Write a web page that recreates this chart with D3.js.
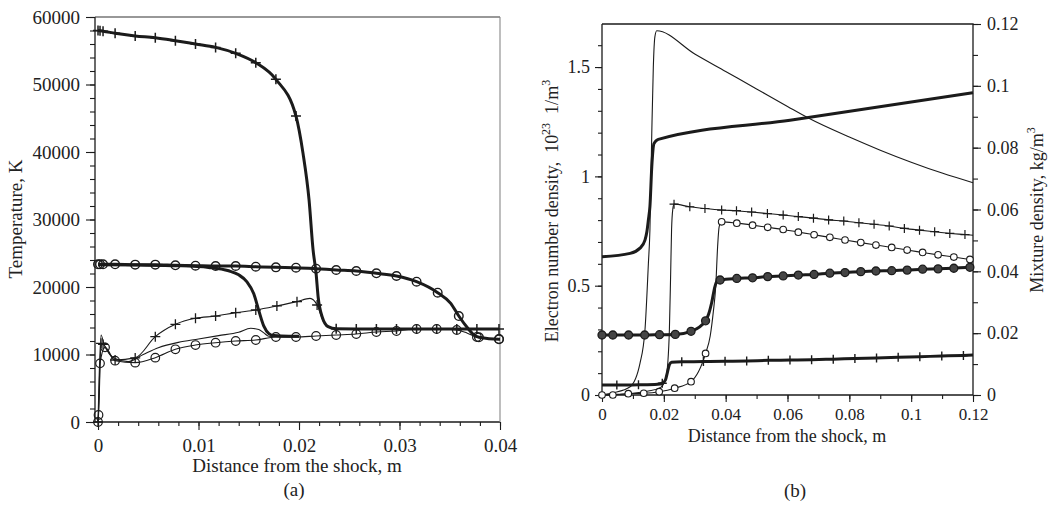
<!DOCTYPE html>
<html>
<head>
<meta charset="utf-8">
<script src="https://cdn.jsdelivr.net/npm/d3@7"></script>
<style>
  body { margin: 0; background: #fff; }
  svg, svg text { font-family: "Liberation Serif", "Times New Roman", serif; }
</style>
</head>
<body>
<svg id="chart" width="1052" height="506"></svg>
<script>
// ---------- panel (a): temperature behind the shock ----------
var aXTicks = [0, 0.01, 0.02, 0.03, 0.04];
var aYTicks = [0, 10000, 20000, 30000, 40000, 50000, 60000];

// [distance m, temperature K, marker drawn (1/0)]
var tHeavyPlus = [[0,58000,1],[0.0002,57950,1],[0.0005,57900,1],[0.0017,57580,1],[0.0037,57190,1],
  [0.0057,56930,1],[0.0077,56490,1],[0.0097,56000,1],[0.0117,55500,1],[0.0137,54620,1],[0.0157,53230,1],
  [0.0177,50770,1],[0.0197,45330,1],[0.0204,39800,0],[0.021,32900,0],[0.0214,25500,0],[0.0217,22000,0],
  [0.0219,18560,0],[0.0223,15600,0],[0.0229,14120,0],[0.0237,13800,1],[0.0257,13780,1],[0.0277,13780,1],
  [0.0297,13780,1],[0.0317,13780,1],[0.0337,13780,1],[0.0357,13780,1],[0.0377,13780,1],[0.0399,13780,1]];
var tHeavyCirc = [[0,23360,1],[0.0002,23360,1],[0.0005,23360,1],[0.0017,23360,1],[0.0037,23310,1],
  [0.0057,23310,1],[0.0077,23210,1],[0.0097,23160,1],[0.0117,23110,1],[0.0137,23110,1],[0.0157,23010,1],
  [0.0177,22910,1],[0.0197,22860,1],[0.0217,22710,1],[0.0237,22520,1],[0.0257,22370,1],[0.0277,22030,1],
  [0.0297,21630,1],[0.0317,20790,1],[0.0338,19160,1],[0.0351,17580,0],[0.0359,15700,1],[0.0368,13880,0],
  [0.0374,12890,0],[0.0379,12550,1],[0.0399,12250,1],[0.04,12250,0]];
var tHeavyPlain = [[0,23300],[0.004,23250],[0.008,23150],[0.011,22900],[0.013,22400],[0.014,21800],
  [0.0148,20800],[0.0155,19000],[0.016,16500],[0.0165,14200],[0.017,13100],[0.0175,12800],[0.019,12700],
  [0.02,12700]];
var tElecPlus = [[0,0,1],[0.0001,3000,0],[0.0003,11650,1],[0.0005,11500,1],[0.0017,9185,1],[0.0037,9500,1],
  [0.0057,12640,1],[0.0077,14470,1],[0.0097,15360,1],[0.0117,15700,1],[0.0137,16200,1],[0.0157,16590,1],
  [0.0178,17190,1],[0.0198,17830,1],[0.0211,18320,0],[0.0218,17330,1],[0.0224,15000,0],[0.0229,14100,0],
  [0.0237,13800,0],[0.04,13780,0]];
var tElecCirc = [[0,0,1],[0.00005,1040,1],[0.0002,8690,1],[0.0007,11060,1],[0.0017,9080,1],[0.0037,8790,1],
  [0.0057,9530,1],[0.0077,10770,1],[0.0097,11400,1],[0.0117,11750,1],[0.0137,12000,1],[0.0157,12150,1],
  [0.0177,12590,1],[0.0197,12590,1],[0.0217,12740,1],[0.0237,12890,1],[0.0257,13040,1],[0.0277,13330,1],
  [0.0297,13480,1],[0.0317,13780,1],[0.0337,13780,1],[0.0357,13630,1],[0.0367,13200,0],[0.0377,12590,1],
  [0.0399,12300,1],[0.04,12300,0]];
var tElecPlain = [[0,0],[0.0001,6000],[0.0003,12900],[0.0006,11500],[0.0017,9400],[0.003,8950],
  [0.0045,10000],[0.006,11000],[0.008,11800],[0.01,12300],[0.012,12800],[0.014,13300],[0.0152,13880],
  [0.016,13700],[0.0165,13200],[0.017,12700],[0.018,12600],[0.02,12600]];

// ---------- panel (b): electron number density and mixture density ----------
var bXTicks = [0, 0.02, 0.04, 0.06, 0.08, 0.1, 0.12];
var bLeftTicks = [0, 0.5, 1, 1.5];
var bRightTicks = [0, 0.02, 0.04, 0.06, 0.08, 0.1, 0.12];

// electron number density, 10^23 1/m^3 (left axis)
var nePlain = [[0,0],[0.0036,0.01],[0.0091,0.038],[0.0123,0.146],[0.0139,0.297],[0.015,0.6],[0.0155,0.755],
  [0.0161,1.197],[0.0166,1.5],[0.0171,1.638],[0.0177,1.666],[0.03,1.56],[0.04,1.48],[0.05,1.4],[0.06,1.32],
  [0.0666,1.268],[0.08,1.18],[0.09,1.12],[0.1,1.065],[0.11,1.015],[0.12,0.971]];
var nePlus = [[0,0,0],[0.005,0.003,0],[0.01,0.008,0],[0.015,0.018,0],[0.019,0.035,0],[0.0205,0.07,0],
  [0.0213,0.15,0],[0.0218,0.3,0],[0.0222,0.55,0],[0.0225,0.755,0],[0.0229,0.85,0],[0.0233,0.873,1],
  [0.0284,0.861,1],[0.0333,0.853,1],[0.0387,0.846,1],[0.0435,0.843,1],[0.0484,0.837,1],[0.0535,0.83,1],
  [0.0586,0.823,1],[0.0635,0.816,1],[0.0684,0.809,1],[0.0733,0.801,1],[0.0782,0.796,1],[0.0831,0.788,1],
  [0.088,0.781,1],[0.0929,0.773,1],[0.0978,0.762,1],[0.1027,0.754,1],[0.1076,0.747,1],[0.1125,0.739,1],
  [0.1174,0.734,1],[0.12,0.731,0]];
var neCirc = [[0,0,1],[0.0035,0,1],[0.0085,0.006,1],[0.0135,0.008,1],[0.0185,0.015,1],[0.0235,0.031,1],
  [0.0288,0.061,1],[0.0335,0.19,1],[0.035,0.27,0],[0.036,0.38,0],[0.0368,0.5,0],[0.0374,0.68,0],
  [0.0379,0.77,0],[0.0387,0.792,1],[0.0436,0.786,1],[0.0487,0.777,1],[0.0536,0.767,1],[0.0586,0.757,1],
  [0.0635,0.745,1],[0.0686,0.733,1],[0.0737,0.721,1],[0.0786,0.709,1],[0.0837,0.697,1],[0.0886,0.686,1],
  [0.0937,0.675,1],[0.0987,0.663,1],[0.1037,0.652,1],[0.1087,0.641,1],[0.1138,0.631,1],[0.119,0.62,1],
  [0.12,0.618,0]];

// mixture density, kg/m^3 (right axis)
var rhoPlain = [[0,0.0447],[0.0091,0.0458],[0.0123,0.0475],[0.0139,0.0501],[0.0145,0.0527],[0.015,0.0566],
  [0.0155,0.0609],[0.0161,0.0738],[0.0168,0.0813],[0.0182,0.0827],[0.0608,0.0889],[0.12,0.0978]];
var rhoPlus = [[0,0.0032,0],[0.0048,0.0032,1],[0.0118,0.0033,1],[0.018,0.0035,0],[0.0195,0.0038,1],
  [0.0205,0.0048,0],[0.0212,0.0075,0],[0.0218,0.0098,0],[0.0225,0.0106,0],[0.0258,0.01075,1],
  [0.0328,0.0108,1],[0.0398,0.0109,1],[0.0468,0.011,1],[0.0538,0.0112,1],[0.0608,0.0113,1],[0.0678,0.0114,1],
  [0.0748,0.0116,1],[0.0818,0.0118,1],[0.0888,0.012,1],[0.0958,0.0122,1],[0.1028,0.0124,1],[0.1099,0.0126,1],
  [0.1169,0.0128,1],[0.12,0.0129,0]];
var rhoCirc = [[0,0.0194,1],[0.0035,0.0194,1],[0.0086,0.0194,1],[0.0138,0.0194,1],[0.0186,0.0195,1],
  [0.0237,0.0196,1],[0.0288,0.0206,1],[0.0335,0.024,1],[0.0345,0.0262,0],[0.0355,0.03,0],[0.0365,0.035,0],
  [0.0372,0.0368,0],[0.0382,0.0372,1],[0.0436,0.0377,1],[0.0487,0.0379,1],[0.0536,0.0383,1],[0.0586,0.0385,1],
  [0.0635,0.0388,1],[0.0686,0.039,1],[0.0737,0.0394,1],[0.0786,0.0396,1],[0.0837,0.0399,1],[0.0886,0.0401,1],
  [0.0937,0.0402,1],[0.0987,0.0404,1],[0.1037,0.0407,1],[0.1087,0.0408,1],[0.1138,0.041,1],[0.119,0.0413,1],
  [0.12,0.0413,0]];

var ink = "#1b1b1b";
var serif = "Liberation Serif";
var svg = d3.select("#chart");
var fmt = function (d) { return String(d); };

function drawLine(g, data, x, y, width) {
  var line = d3.line()
    .x(function (d) { return x(d[0]); })
    .y(function (d) { return y(d[1]); })
    .curve(d3.curveMonotoneX);
  g.append("path").datum(data)
    .attr("d", line)
    .attr("fill", "none")
    .attr("stroke", ink)
    .attr("stroke-width", width)
    .attr("stroke-linejoin", "round");
}

function drawMarks(g, data, x, y, kind, size, sw, fill) {
  var pts = data.filter(function (d) { return d[2] === 1; });
  if (kind === "plus") {
    g.selectAll(null).data(pts).enter().append("path")
      .attr("d", function (d) {
        var px = x(d[0]), py = y(d[1]);
        return "M" + (px - size) + "," + py + "H" + (px + size) + "M" + px + "," + (py - size) + "V" + (py + size);
      })
      .attr("stroke", ink).attr("stroke-width", sw).attr("fill", "none");
  } else {
    g.selectAll(null).data(pts).enter().append("circle")
      .attr("cx", function (d) { return x(d[0]); })
      .attr("cy", function (d) { return y(d[1]); })
      .attr("r", size)
      .attr("fill", fill || "none")
      .attr("stroke", ink).attr("stroke-width", sw);
  }
}

function styleAxis(g, fontSize) {
  g.attr("font-family", serif).attr("font-size", fontSize);
  g.select(".domain").remove();
  g.selectAll(".tick line").attr("stroke", ink).attr("stroke-width", 1.1);
  g.selectAll(".tick text").attr("fill", "#222");
}

// ---------------- panel (a) ----------------
var xA = d3.scaleLinear().domain([-0.0003, 0.04]).range([95, 500]);
var yA = d3.scaleLinear().domain([0, 60000]).range([422, 17]);
var ga = svg.append("g");

ga.append("g").attr("transform", "translate(0,422)")
  .call(d3.axisBottom(xA).tickValues(d3.range(0, 0.0401, 0.002)).tickSize(4).tickFormat(""))
  .call(styleAxis, 19);
ga.append("g").attr("transform", "translate(0,422)")
  .call(d3.axisBottom(xA).tickValues(aXTicks).tickSize(8).tickPadding(9).tickFormat(fmt))
  .call(styleAxis, 19);
ga.append("g").attr("transform", "translate(95,0)")
  .call(d3.axisLeft(yA).tickValues(d3.range(0, 60001, 2000)).tickSize(5).tickFormat(""))
  .call(styleAxis, 19);
ga.append("g").attr("transform", "translate(95,0)")
  .call(d3.axisLeft(yA).tickValues(aYTicks).tickSize(9).tickPadding(6).tickFormat(fmt))
  .call(styleAxis, 19);

// frame
ga.append("path").attr("d", "M95,17V422H500").attr("fill", "none").attr("stroke", ink).attr("stroke-width", 1.3);
ga.append("path").attr("d", "M95,17H500").attr("fill", "none").attr("stroke", "#333").attr("stroke-width", 1.1);
ga.append("path").attr("d", "M500,17V422").attr("fill", "none").attr("stroke", "#888").attr("stroke-width", 1.1);

drawLine(ga, tElecPlain, xA, yA, 1.1);
drawLine(ga, tElecPlus, xA, yA, 1.1);
drawLine(ga, tElecCirc, xA, yA, 1.1);
drawLine(ga, tHeavyPlain, xA, yA, 3);
drawLine(ga, tHeavyCirc, xA, yA, 3);
drawLine(ga, tHeavyPlus, xA, yA, 3);
drawMarks(ga, tElecPlus, xA, yA, "plus", 5, 1.3);
drawMarks(ga, tElecCirc, xA, yA, "circle", 4.3, 1.2);
drawMarks(ga, tHeavyCirc, xA, yA, "circle", 4.3, 1.4);
drawMarks(ga, tHeavyPlus, xA, yA, "plus", 5, 1.5);

ga.append("text").attr("x", 297).attr("y", 472).attr("text-anchor", "middle")
  .attr("font-size", 19).attr("fill", "#222").text("Distance from the shock, m");
ga.append("text").attr("transform", "translate(22,219) rotate(-90)").attr("text-anchor", "middle")
  .attr("font-size", 19).attr("fill", "#222").text("Temperature, K");
ga.append("text").attr("x", 294).attr("y", 496).attr("text-anchor", "middle")
  .attr("font-size", 19).attr("fill", "#222").text("(a)");

// ---------------- panel (b) ----------------
var xB = d3.scaleLinear().domain([0, 0.12]).range([602, 973]);
var yBL = d3.scaleLinear().domain([0, 1.697]).range([395, 24]);
var yBR = d3.scaleLinear().domain([0, 0.12]).range([395, 24]);
var gb = svg.append("g");

gb.append("g").attr("transform", "translate(0,395)")
  .call(d3.axisBottom(xB).tickValues(d3.range(0, 0.1201, 0.01)).tickSize(4).tickFormat(""))
  .call(styleAxis, 17);
gb.append("g").attr("transform", "translate(0,395)")
  .call(d3.axisBottom(xB).tickValues(bXTicks).tickSize(7).tickPadding(6).tickFormat(fmt))
  .call(styleAxis, 17);
gb.append("g").attr("transform", "translate(602,0)")
  .call(d3.axisLeft(yBL).tickValues(d3.range(0, 1.65, 0.1)).tickSize(4).tickFormat(""))
  .call(styleAxis, 18);
gb.append("g").attr("transform", "translate(602,0)")
  .call(d3.axisLeft(yBL).tickValues(bLeftTicks).tickSize(7).tickPadding(5).tickFormat(fmt))
  .call(styleAxis, 18);
gb.append("g").attr("transform", "translate(973,0)")
  .call(d3.axisRight(yBR).tickValues(d3.range(0, 0.1201, 0.01)).tickSize(5).tickFormat(""))
  .call(styleAxis, 18);
gb.append("g").attr("transform", "translate(973,0)")
  .call(d3.axisRight(yBR).tickValues(bRightTicks).tickSize(8).tickPadding(6).tickFormat(fmt))
  .call(styleAxis, 18);

gb.append("path").attr("d", "M602,24V395H973V24H602").attr("fill", "none").attr("stroke", ink).attr("stroke-width", 1.3);

drawLine(gb, nePlain, xB, yBL, 1.1);
drawLine(gb, nePlus, xB, yBL, 1.1);
drawLine(gb, neCirc, xB, yBL, 1.1);
drawLine(gb, rhoPlain, xB, yBR, 3);
drawLine(gb, rhoCirc, xB, yBR, 3);
drawLine(gb, rhoPlus, xB, yBR, 3);
drawMarks(gb, nePlus, xB, yBL, "plus", 4.5, 1.2);
drawMarks(gb, neCirc, xB, yBL, "circle", 3.3, 1.1, "#fff");
drawMarks(gb, rhoPlus, xB, yBR, "plus", 4.5, 1.4);
drawMarks(gb, rhoCirc, xB, yBR, "circle", 4, 1.3, "#444");

gb.append("text").attr("x", 787).attr("y", 442).attr("text-anchor", "middle")
  .attr("font-size", 18).attr("fill", "#222").text("Distance from the shock, m");
gb.append("text").attr("x", 795).attr("y", 497).attr("text-anchor", "middle")
  .attr("font-size", 19).attr("fill", "#222").text("(b)");

var yl = gb.append("text").attr("transform", "translate(558,211) rotate(-90)").attr("text-anchor", "middle")
  .attr("font-size", 18).attr("fill", "#222");
yl.append("tspan").text("Electron number density,\u00a0\u00a010");
yl.append("tspan").attr("font-size", 12).attr("dy", -8).text("23");
yl.append("tspan").attr("dy", 8).text("\u00a0\u00a01/m");
yl.append("tspan").attr("font-size", 12).attr("dy", -8).text("3");

var yr = gb.append("text").attr("transform", "translate(1043,210) rotate(-90)").attr("text-anchor", "middle")
  .attr("font-size", 18).attr("fill", "#222");
yr.append("tspan").text("Mixture density, kg/m");
yr.append("tspan").attr("font-size", 12).attr("dy", -8).text("3");
</script>
</body>
</html>
